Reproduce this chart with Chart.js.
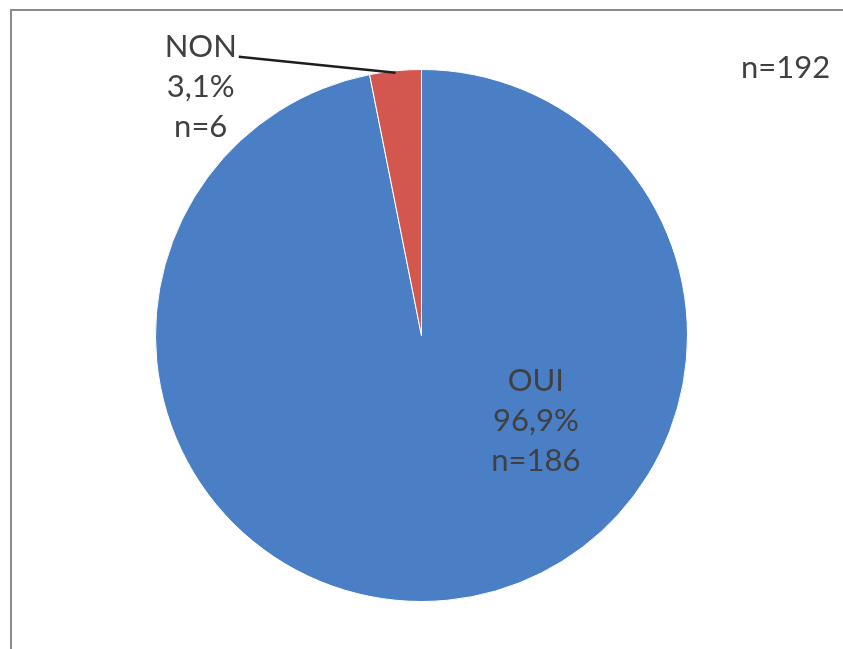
<!DOCTYPE html>
<html>
<head>
<meta charset="utf-8">
<script src="https://cdn.jsdelivr.net/npm/chart.js@4/dist/chart.umd.min.js"></script>
<style>
    html, body { margin: 0; padding: 0; background: #fff; overflow: hidden; }
    #wrap { position: relative; width: 843px; height: 649px; }
    #frame {
        position: absolute; left: 10px; top: 9px; width: 900px; height: 700px;
        border-left: 2px solid #8a8a8a; border-top: 2px solid #8a8a8a;
    }
    canvas { position: absolute; left: 0; top: 0; }
</style>
</head>
<body>
<div id="wrap">
    <div id="frame"></div>
    <canvas id="pie-chart" width="843" height="649"></canvas>
</div>
<script>
const categories = ['OUI', 'NON'];
const counts = [186, 6];
const percentLabels = ['96,9%', '3,1%'];
const totalLabel = 'n=192';
const sliceColors = ['#4a7fc6', '#d3564f'];

const textColor = '#404040';
const labelFont = '31px Lato, "Open Sans", sans-serif';

// label positions, as fractions of the radius from the pie centre
const labelOffsets = [
    { dx: 0.43, dy: 0.32 },
    { dx: -0.83, dy: -0.935 }
];

const pieLabels = {
    id: 'pieLabels',
    afterDraw(chart) {
        const ctx = chart.ctx;
        const meta = chart.getDatasetMeta(0);
        const lineGap = 40;

        ctx.save();
        ctx.font = labelFont;
        ctx.fillStyle = textColor;
        ctx.textAlign = 'center';
        ctx.textBaseline = 'middle';

        meta.data.forEach((arc, i) => {
            const r = arc.outerRadius;
            const x = arc.x + labelOffsets[i].dx * r;
            const y = arc.y + labelOffsets[i].dy * r;
            const lines = [categories[i], percentLabels[i], 'n=' + counts[i]];
            lines.forEach((txt, j) => {
                ctx.fillText(txt, x, y + (j - 1) * lineGap);
            });

            // leader line for the small slice
            if (i === 1) {
                const mid = (arc.startAngle + arc.endAngle) / 2;
                const ex = arc.x + Math.cos(mid) * (r - 2);
                const ey = arc.y + Math.sin(mid) * (r - 2);
                const w = ctx.measureText(categories[i]).width;
                ctx.beginPath();
                ctx.strokeStyle = '#1e1e1e';
                ctx.lineWidth = 2.5;
                ctx.moveTo(x + w / 2 + 2, y - lineGap + 10);
                ctx.lineTo(ex, ey);
                ctx.stroke();
            }
        });

        ctx.textAlign = 'left';
        ctx.fillText(totalLabel, 741, 68);
        ctx.restore();
    }
};

new Chart(document.getElementById('pie-chart'), {
    type: 'pie',
    data: {
        labels: categories,
        datasets: [{
            data: counts,
            backgroundColor: sliceColors,
            borderColor: '#ffffff',
            borderWidth: 1
        }]
    },
    options: {
        responsive: false,
        animation: false,
        layout: {
            padding: { top: 69, bottom: 47, left: 0, right: 0 }
        },
        plugins: {
            legend: { display: false },
            tooltip: { enabled: false }
        }
    },
    plugins: [pieLabels]
});
</script>
</body>
</html>
